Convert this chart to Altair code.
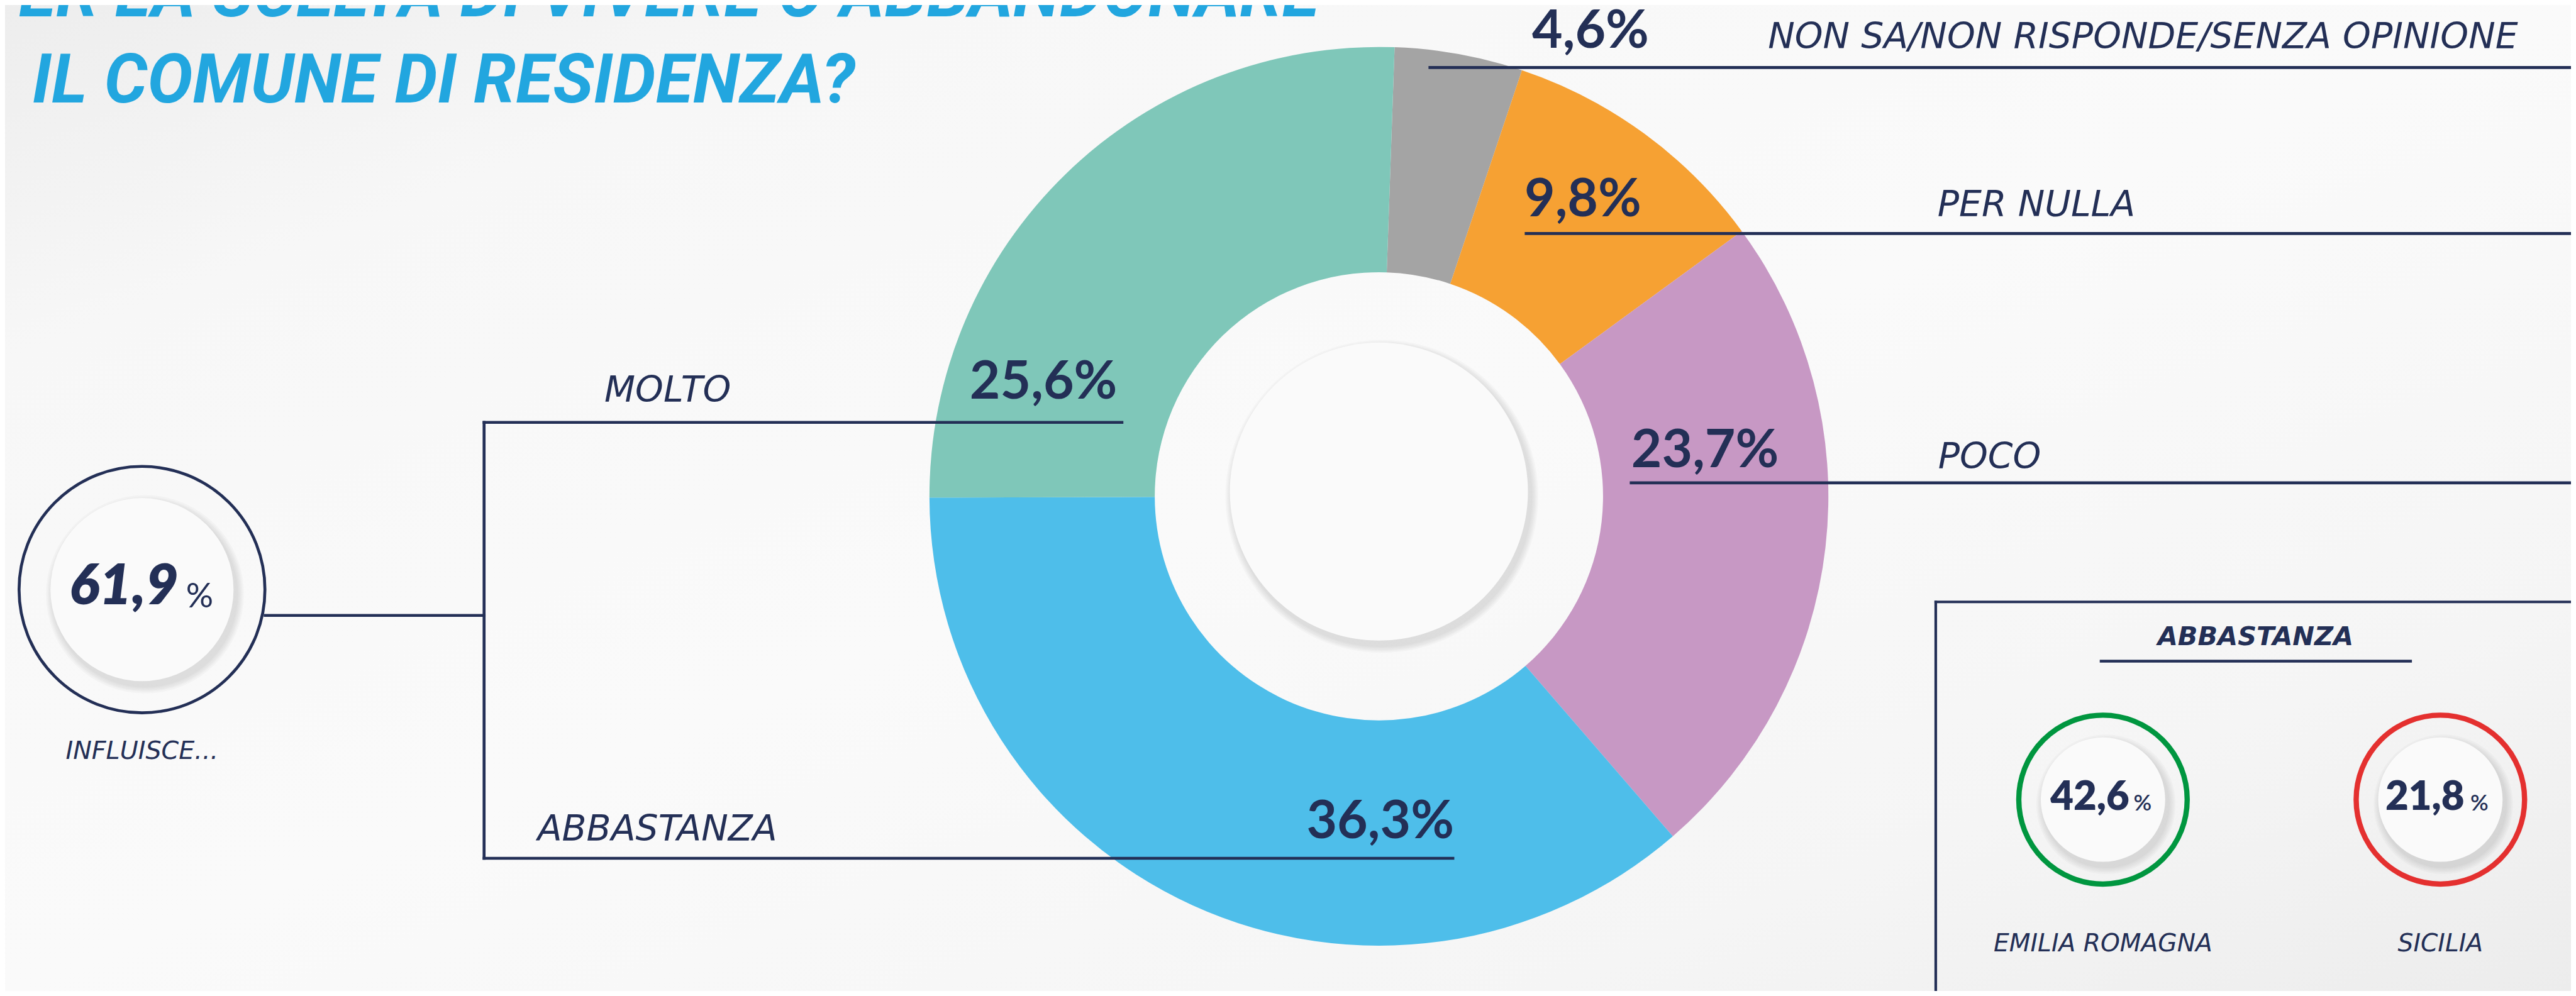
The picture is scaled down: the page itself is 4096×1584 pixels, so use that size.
import altair as alt
import pandas as pd
import math

# ---------------- data ----------------
categories = ["NON SA/NON RISPONDE/SENZA OPINIONE", "PER NULLA", "POCO", "ABBASTANZA", "MOLTO"]
values = [4.6, 9.8, 23.7, 36.3, 25.6]
slice_colors = ["#A4A4A4", "#F6A133", "#C798C4", "#4EBEEA", "#7FC7B9"]

title_lines = ["ER LA SCELTA DI VIVERE O ABBANDONARE", "IL COMUNE DI RESIDENZA?"]

influisce_value = 61.9
influisce_label = "INFLUISCE..."

region_title = "ABBASTANZA"
regions = ["EMILIA ROMAGNA", "SICILIA"]
region_values = [42.6, 21.8]
region_colors = ["#00963F", "#E4302F"]

# ---------------- layout (reference pixel space) ----------------
S = 0.933
M = 8
W, H = 4080, 1568
X0, X1 = M / S, (W + M) / S
Y0, Y1 = M / S, (H + M) / S
EDGE_X, EDGE_Y = 4400, 1710

NAVY = "#232F56"
TITLE_BLUE = "#22A6DF"
FONT_T = "Roboto"
FONT = "Lato"
FONT_L = "DejaVu Sans"

donut = {"cx": 2350, "cy": 846, "r_out": 766, "r_in": 382, "start_deg": 2.0}

pct_pos = {  # x, baseline y, align
    "NON SA/NON RISPONDE/SENZA OPINIONE": (2611, 81, "left"),
    "PER NULLA": (2598, 369, "left"),
    "POCO": (2780, 796, "left"),
    "ABBASTANZA": (2478, 1429, "right"),
    "MOLTO": (1904, 680, "right"),
}
cat_pos = {
    "NON SA/NON RISPONDE/SENZA OPINIONE": (3013, 82),
    "PER NULLA": (3302, 369),
    "POCO": (3303, 798),
    "ABBASTANZA": (916, 1433),
    "MOLTO": (1030, 685),
}
rules = [  # x1, x2, y1, y2, width
    (2437, EDGE_X, 115, 115, 5),
    (2601, EDGE_X, 398, 398, 5),
    (2780, EDGE_X, 823, 823, 5),
    (825, 1912, 720, 720, 5),
    (825, 2476, 1463, 1463, 5),
    (825, 825, 720, 1463, 5),
    (452, 825, 1049, 1049, 5),
    (3299, EDGE_X, 1026, 1026, 4.5),
    (3299, 3299, 1026, EDGE_Y, 4.5),
    (3581, 4108, 1127, 1127, 5),
]
title_pos = [(32, 28), (55, 175)]

big_circle = {"cx": 242, "cy": 1005, "r": 209.5, "sw": 5, "r_in": 156}
region_cx = [3584, 4159]
region_cy = 1363
region_r, region_sw, region_r_in = 143.5, 9, 106
donut_deco = {"cx": 2350, "cy": 838, "r": 254}

xs = alt.Scale(domain=[X0, X1], nice=False, zero=False)
ys = alt.Scale(domain=[Y0, Y1], nice=False, zero=False, reverse=True)


def X(f="x"):
    return alt.X(f"{f}:Q", scale=xs, axis=None)


def Y(f="y"):
    return alt.Y(f"{f}:Q", scale=ys, axis=None)


def fmt(v):
    return f"{v:.1f}".replace(".", ",")


# ---------------- background ----------------
bg_df = pd.DataFrame({"x": [X0], "x2": [X1], "y": [Y0], "y2": [Y1]})
background = alt.Chart(bg_df).mark_rect(
    color=alt.Gradient(
        gradient="linear",
        stops=[
            alt.GradientStop(color="#EDEDED", offset=0.0),
            alt.GradientStop(color="#F7F7F7", offset=0.18),
            alt.GradientStop(color="#FAFAFA", offset=0.5),
            alt.GradientStop(color="#F5F5F5", offset=0.8),
            alt.GradientStop(color="#ECECEC", offset=1.0),
        ],
        x1=0, y1=0, x2=1, y2=1,
    )
).encode(x=X("x"), x2="x2:Q", y=Y("y"), y2="y2:Q")

# ---------------- donut ----------------
pie_df = pd.DataFrame({
    "cat": categories,
    "value": values,
    "color": slice_colors,
    "idx": list(range(len(categories))),
    "cx": donut["cx"],
    "cy": donut["cy"],
})
start = math.radians(donut["start_deg"])
pie = alt.Chart(pie_df).mark_arc(
    radius=donut["r_out"] * S, radius2=donut["r_in"] * S, stroke=None
).encode(
    x=X("cx"), y=Y("cy"),
    theta=alt.Theta("value:Q", stack=True,
                    scale=alt.Scale(domain=[0, sum(values)], range=[start, start + 2 * math.pi])),
    color=alt.Color("color:N", scale=None),
    order=alt.Order("idx:Q", sort="ascending"),
)

# ---------------- inner discs with soft shadow ----------------
discs = [
    (big_circle["cx"], big_circle["cy"], big_circle["r_in"]),
    (donut_deco["cx"], donut_deco["cy"], donut_deco["r"]),
    (region_cx[0], region_cy, region_r_in),
    (region_cx[1], region_cy, region_r_in),
]
shadow_rows = []
for cx, cy, r in discs:
    for k in range(1, 6):
        shadow_rows.append({"x": cx + 5, "y": cy + 8, "sz": (2 * (r + 2.5 * k) * S) ** 2})
shadow_df = pd.DataFrame(shadow_rows)
shadow = alt.Chart(shadow_df).mark_point(
    shape="circle", filled=True, color="#7A7A7A", opacity=0.045, strokeWidth=0
).encode(x=X(), y=Y(), size=alt.Size("sz:Q", scale=None))

disc_df = pd.DataFrame({"x": [d[0] for d in discs], "y": [d[1] for d in discs],
                        "sz": [(2 * d[2] * S) ** 2 for d in discs]})
disc = alt.Chart(disc_df).mark_point(
    shape="circle", filled=True, color="#FAFAFA", opacity=1, strokeWidth=0
).encode(x=X(), y=Y(), size=alt.Size("sz:Q", scale=None))

# ---------------- outline rings ----------------
ring_df = pd.DataFrame({
    "x": [big_circle["cx"]] + region_cx,
    "y": [big_circle["cy"], region_cy, region_cy],
    "sz": [(2 * big_circle["r"] * S) ** 2] + [(2 * region_r * S) ** 2] * 2,
    "sw": [big_circle["sw"] * S] + [region_sw * S] * 2,
    "c": [NAVY] + region_colors,
})
rings = alt.Chart(ring_df).mark_point(shape="circle", filled=False, opacity=1).encode(
    x=X(), y=Y(),
    size=alt.Size("sz:Q", scale=None),
    strokeWidth=alt.StrokeWidth("sw:Q", scale=None),
    color=alt.Color("c:N", scale=None),
)

# ---------------- leader lines ----------------
rule_df = pd.DataFrame(rules, columns=["x", "x2", "y", "y2", "w"])
rule_df["w"] = rule_df["w"] * S
lines = alt.Chart(rule_df).mark_rule(color=NAVY, strokeCap="square").encode(
    x=X("x"), x2="x2:Q", y=Y("y"), y2="y2:Q",
    strokeWidth=alt.StrokeWidth("w:Q", scale=None),
)


# ---------------- texts ----------------
def text_layer(df, align, size, weight, style, color, font):
    return alt.Chart(df).mark_text(
        align=align, baseline="alphabetic", font=font, fontSize=size,
        fontWeight=weight, fontStyle=style, color=color,
    ).encode(x=X(), y=Y(), text="t:N")


title_df = pd.DataFrame({"t": title_lines, "x": [p[0] for p in title_pos], "y": [p[1] for p in title_pos]})
title = text_layer(title_df, "left", 116 * S, "bold", "italic", TITLE_BLUE, FONT_T)

pct_rows = [{"t": fmt(v) + "%", "x": pct_pos[c][0], "y": pct_pos[c][1], "a": pct_pos[c][2]}
            for c, v in zip(categories, values)]
pct_df = pd.DataFrame(pct_rows)
pct_left = text_layer(pct_df[pct_df.a == "left"], "left", 90 * S, "bold", "normal", NAVY, FONT)
pct_right = text_layer(pct_df[pct_df.a == "right"], "right", 90 * S, "bold", "normal", NAVY, FONT)

cat_df = pd.DataFrame({"t": categories, "x": [cat_pos[c][0] for c in categories],
                       "y": [cat_pos[c][1] for c in categories]})
cat_text = text_layer(cat_df, "left", 61 * S, "normal", "italic", NAVY, FONT_L)

# left summary circle
infl_num = text_layer(pd.DataFrame({"t": [fmt(influisce_value)], "x": [304], "y": [1030]}),
                      "right", 96 * S, 800, "italic", NAVY, FONT)
infl_pct = text_layer(pd.DataFrame({"t": ["%"], "x": [317], "y": [1035]}),
                      "left", 58 * S, "normal", "normal", NAVY, FONT)
infl_lbl = text_layer(pd.DataFrame({"t": [influisce_label], "x": [242], "y": [1294]}),
                      "center", 42.5 * S, "normal", "italic", NAVY, FONT_L)

# regional box
box_title = text_layer(pd.DataFrame({"t": [region_title], "x": [3844], "y": [1100]}),
                       "center", 44.5 * S, "bold", "italic", NAVY, FONT_L)
reg_num = text_layer(pd.DataFrame({"t": [fmt(v) for v in region_values], "x": [3629, 4200], "y": [1381, 1381]}),
                     "right", 68 * S, 800, "normal", NAVY, FONT)
reg_pct = text_layer(pd.DataFrame({"t": ["%", "%"], "x": [3636, 4210], "y": [1382, 1382]}),
                     "left", 38 * S, 600, "normal", NAVY, FONT)
reg_name = text_layer(pd.DataFrame({"t": regions, "x": region_cx, "y": [1622, 1622]}),
                      "center", 42 * S, "normal", "italic", NAVY, FONT_L)

chart = alt.layer(
    background, pie, shadow, disc, rings, lines,
    title, pct_left, pct_right, cat_text,
    infl_num, infl_pct, infl_lbl,
    box_title, reg_num, reg_pct, reg_name,
).properties(
    width=W, height=H, padding=0, background="#F7F7F7",
    autosize=alt.AutoSizeParams(type="none"),
).configure_view(stroke=None)

chart.save("out.html", embed_options={"renderer": "svg", "actions": False})
